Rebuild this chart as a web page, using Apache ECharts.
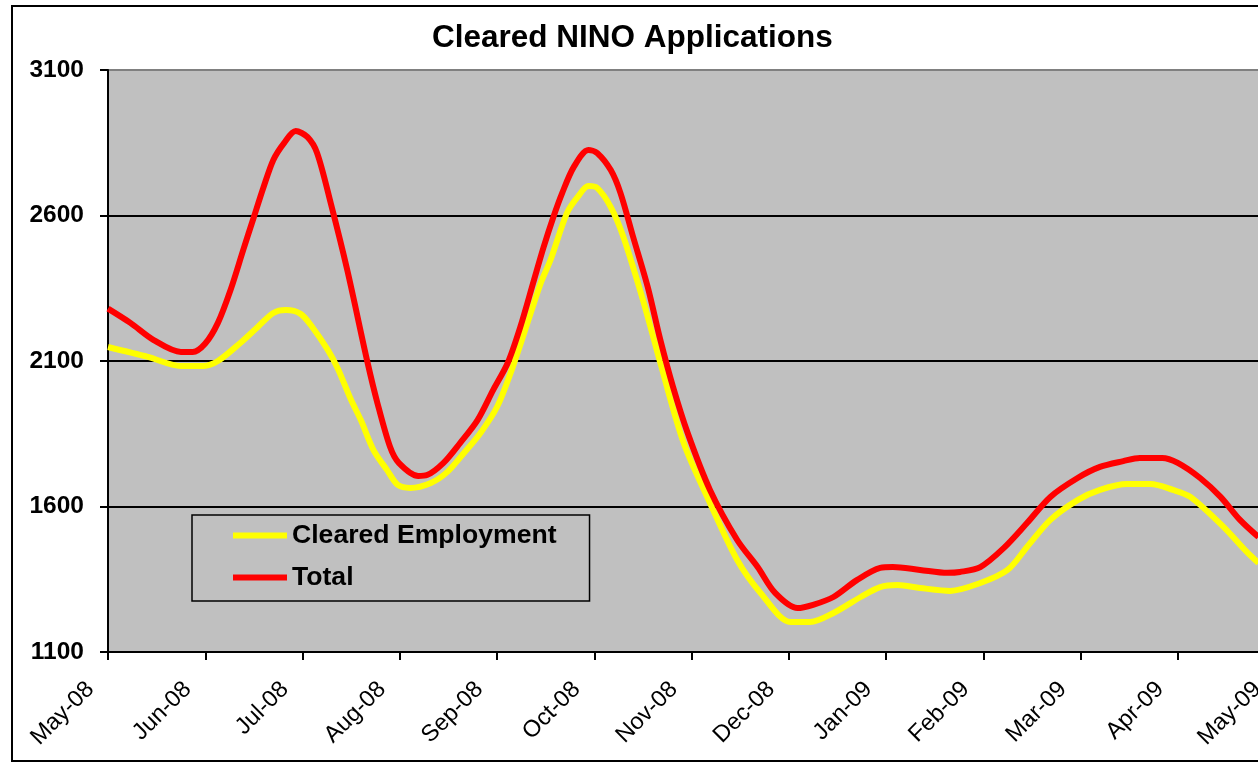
<!DOCTYPE html>
<html>
<head>
<meta charset="utf-8">
<title>Cleared NINO Applications</title>
<script src="https://cdn.jsdelivr.net/npm/echarts@6/dist/echarts.min.js"></script>
<style>
  html, body { margin: 0; padding: 0; background: #fff; overflow: hidden; }
  #chart { width: 1300px; height: 762px; }
</style>
</head>
<body>
<div id="chart"></div>
<script>
// month tick labels (one per month, from May-08)
const monthLabels = ['May-08', 'Jun-08', 'Jul-08', 'Aug-08', 'Sep-08', 'Oct-08', 'Nov-08',
  'Dec-08', 'Jan-09', 'Feb-09', 'Mar-09', 'Apr-09', 'May-09'];

// Cleared Employment: position in months after May-08, and value
const employmentAt = [0.00, 0.41, 0.75, 0.98, 1.13, 1.36, 1.54, 1.70, 1.83, 1.98, 2.10, 2.26, 2.36,
  2.50, 2.60, 2.73, 2.87, 2.98, 3.11, 3.32, 3.49, 3.66, 3.83, 4.00, 4.14, 4.29, 4.45, 4.55, 4.72,
  4.83, 4.94, 5.03, 5.17, 5.30, 5.51, 5.68, 5.92, 6.19, 6.47, 6.71, 7.02, 7.22, 7.46, 7.74, 7.94,
  8.12, 8.35, 8.66, 8.97, 9.25, 9.45, 9.69, 9.97, 10.20, 10.48, 10.72, 10.95, 11.13, 11.47, 11.71, 11.83];
const employmentValues = [2148, 2114, 2083, 2083, 2100, 2162, 2217, 2265, 2275, 2262, 2217, 2138, 2076,
  1966, 1897, 1794, 1725, 1674, 1664, 1681, 1719, 1784, 1853, 1942, 2059, 2207, 2368, 2447, 2609,
  2664, 2701, 2695, 2629, 2526, 2299, 2093, 1818, 1612, 1416, 1303, 1203, 1203, 1234, 1289, 1323,
  1330, 1320, 1310, 1337, 1382, 1461, 1554, 1622, 1657, 1677, 1677, 1657, 1633, 1530, 1444, 1406];

// Total
const totalAt = [0.00, 0.23, 0.47, 0.75, 0.87, 1.00, 1.13, 1.26, 1.39, 1.50, 1.60, 1.70, 1.81, 1.93,
  2.05, 2.15, 2.29, 2.46, 2.67, 2.77, 2.90, 2.99, 3.19, 3.28, 3.45, 3.62, 3.80, 3.96, 4.11, 4.24,
  4.38, 4.48, 4.58, 4.67, 4.79, 4.94, 5.03, 5.17, 5.27, 5.40, 5.55, 5.68, 5.81, 5.96, 6.19, 6.47,
  6.68, 6.86, 7.09, 7.25, 7.46, 7.70, 7.94, 8.07, 8.35, 8.63, 8.76, 8.97, 9.21, 9.45, 9.69, 9.97,
  10.20, 10.44, 10.61, 10.84, 11.00, 11.23, 11.44, 11.64, 11.83];
const totalValues = [2280, 2231, 2172, 2131, 2131, 2160, 2231, 2344, 2481, 2595, 2698, 2791, 2849, 2890,
  2870, 2815, 2643, 2413, 2093, 1956, 1805, 1750, 1705, 1708, 1750, 1818, 1897, 2000, 2093, 2217,
  2378, 2492, 2595, 2677, 2767, 2825, 2815, 2756, 2677, 2526, 2354, 2172, 2011, 1853, 1657, 1485,
  1392, 1303, 1251, 1262, 1289, 1347, 1389, 1392, 1382, 1372, 1375, 1392, 1457, 1543, 1633, 1698,
  1736, 1756, 1767, 1767, 1750, 1698, 1633, 1554, 1495];

const yTicks = [1100, 1600, 2100, 2600, 3100];

const pairs = (xs, ys) => xs.map((x, i) => [x, ys[i]]);
const font = '"Liberation Sans", Arial, sans-serif';

const chart = echarts.init(document.getElementById('chart'));

chart.setOption({
  animation: false,
  title: {
    text: 'Cleared NINO Applications',
    left: 432,
    top: 22,
    padding: 0,
    textStyle: { fontFamily: font, fontSize: 31.5, fontWeight: 'bold', color: '#000' }
  },
  // outer chart border
  graphic: [{
    type: 'rect',
    shape: { x: 12, y: 6, width: 1400, height: 755 },
    style: { fill: null, stroke: '#000', lineWidth: 2 },
    silent: true
  }],
  grid: {
    left: 108,
    top: 70,
    right: 25,
    bottom: 110,
    show: true,
    backgroundColor: '#c0c0c0',
    borderColor: '#808080',
    borderWidth: 2
  },
  legend: {
    orient: 'vertical',
    left: 192,
    top: 515,
    padding: [7, 33, 10, 41],
    itemGap: 15,
    itemWidth: 54,
    itemHeight: 6,
    icon: 'rect',
    borderColor: '#000',
    borderWidth: 1.5,
    textStyle: { fontFamily: font, fontSize: 26.6, fontWeight: 'bold', color: '#000' },
    data: ['Cleared Employment', 'Total']
  },
  xAxis: {
    type: 'value',
    min: 0,
    max: monthLabels.length - 1,
    interval: 1,
    axisLine: { lineStyle: { color: '#000', width: 2 } },
    axisTick: { show: true, length: 8, lineStyle: { color: '#000', width: 2 } },
    splitLine: { show: false },
    axisLabel: {
      rotate: 45,
      margin: 16,
      padding: [0, 25, 0, 0],
      fontFamily: font,
      fontSize: 23.5,
      color: '#000',
      formatter: v => monthLabels[v] || ''
    }
  },
  yAxis: {
    type: 'value',
    min: yTicks[0],
    max: yTicks[yTicks.length - 1],
    interval: yTicks[1] - yTicks[0],
    axisLine: { show: true, lineStyle: { color: '#000', width: 2 } },
    axisTick: { show: true, length: 8, lineStyle: { color: '#000', width: 2 } },
    splitLine: { show: true, showMaxLine: false, lineStyle: { color: '#000', width: 2 } },
    axisLabel: {
      margin: 24,
      fontFamily: font,
      fontSize: 24.5,
      fontWeight: 'bold',
      color: '#000',
      formatter: v => String(v)
    }
  },
  series: [
    {
      name: 'Cleared Employment',
      type: 'line',
      data: pairs(employmentAt, employmentValues),
      smooth: 0.3,
      showSymbol: false,
      symbol: 'none',
      color: '#ffff00',
      lineStyle: { color: '#ffff00', width: 6 }
    },
    {
      name: 'Total',
      type: 'line',
      data: pairs(totalAt, totalValues),
      smooth: 0.3,
      showSymbol: false,
      symbol: 'none',
      color: '#ff0000',
      lineStyle: { color: '#ff0000', width: 6 }
    }
  ]
});
</script>
</body>
</html>
